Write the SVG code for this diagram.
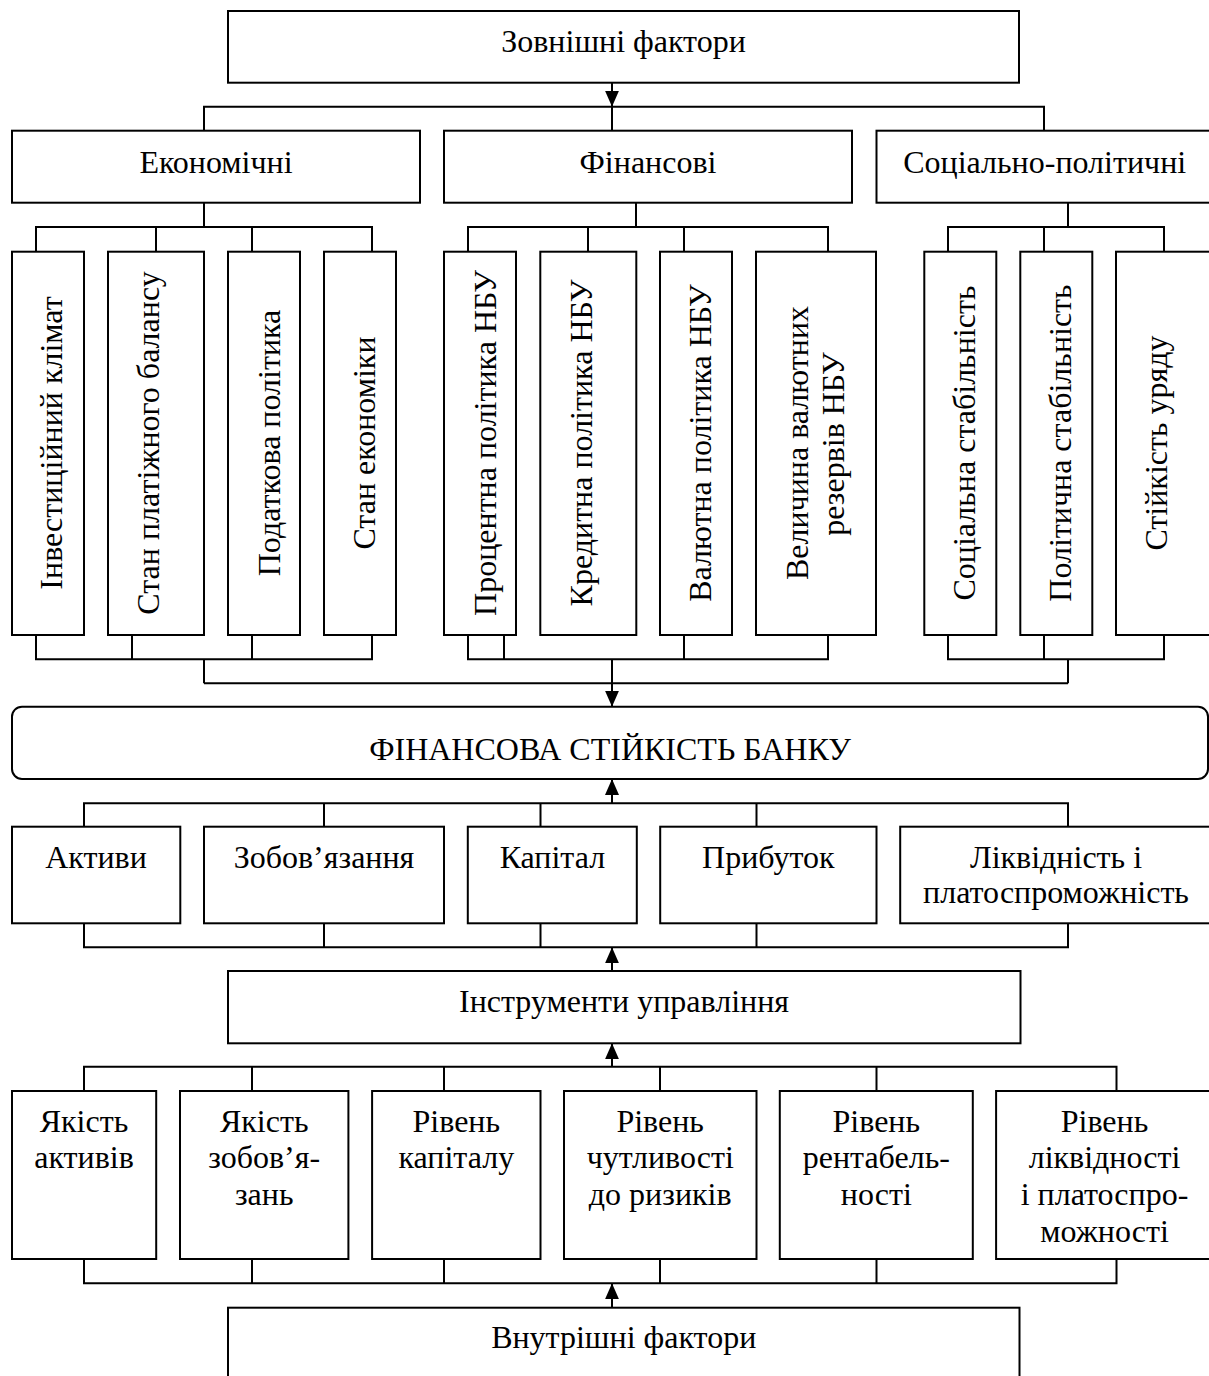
<svg xmlns="http://www.w3.org/2000/svg" width="1209" height="1376" viewBox="0 0 1209 1376">
<style>
.b{fill:#fff;stroke:#000;stroke-width:2}
.t{font-family:"Liberation Serif","Times New Roman",serif;font-size:32px;fill:#000;text-anchor:middle}
.c{fill:none;stroke:#000;stroke-width:2}
</style>
<defs>
<marker id="ah" markerUnits="userSpaceOnUse" viewBox="0 0 16 14" refX="16" refY="7" markerWidth="16" markerHeight="14" orient="auto">
<path d="M0,0 L16,7 L0,14 z" fill="#000"/>
</marker>
</defs>
<rect width="1209" height="1376" fill="#fff"/>
<g id="connectors">
<path class="c" d="M612,83 V106.7" marker-end="url(#ah)"/>
<path class="c" d="M204,130.7 V106.7 H1044 V130.7 M612,106.7 V130.7"/>
<path class="c" d="M204,202.7 V227 M36,251.7 V227 H372 V251.7 M156,227 V251.7 M252,227 V251.7"/>
<path class="c" d="M36,635 V659.3 H372 V635 M132,635 V659.3 M252,635 V659.3 M204,659.3 V683.3"/>
<path class="c" d="M636,202.7 V227 M468,251.7 V227 H828 V251.7 M588,227 V251.7 M684,227 V251.7"/>
<path class="c" d="M468,635 V659.3 H828 V635 M504,635 V659.3 M684,635 V659.3"/>
<path class="c" d="M1068,202.7 V227 M948,251.7 V227 H1164 V251.7 M1044,227 V251.7"/>
<path class="c" d="M948,635 V659.3 H1164 V635 M1044,635 V659.3 M1068,659.3 V683.3"/>
<path class="c" d="M204,683.3 H1068"/>
<path class="c" d="M612,659.3 V706.7" marker-end="url(#ah)"/>
<path class="c" d="M612,803.3 V779" marker-end="url(#ah)"/>
<path class="c" d="M84,826.7 V803.3 H1068 V826.7 M324,803.3 V826.7 M540.5,803.3 V826.7 M756.5,803.3 V826.7"/>
<path class="c" d="M84,923.3 V947.3 H1068 V923.3 M324,923.3 V947.3 M540.5,923.3 V947.3 M756.5,923.3 V947.3"/>
<path class="c" d="M612,971 V947.3" marker-end="url(#ah)"/>
<path class="c" d="M612,1066.7 V1043.3" marker-end="url(#ah)"/>
<path class="c" d="M84,1091 V1066.7 H1116.5 V1091 M252,1066.7 V1091 M444,1066.7 V1091 M660,1066.7 V1091 M876.5,1066.7 V1091"/>
<path class="c" d="M84,1259 V1283.3 H1116.5 V1259 M252,1259 V1283.3 M444,1259 V1283.3 M660,1259 V1283.3 M876.5,1259 V1283.3"/>
<path class="c" d="M612,1307.7 V1283.3" marker-end="url(#ah)"/>
</g>
<g id="n-external"><rect class="b" x="228" y="11" width="791" height="71.7"/><text class="t" x="623.5" y="51.7">Зовнішні фактори</text></g>
<g id="n-econ"><rect class="b" x="12" y="130.7" width="408" height="72"/><text class="t" x="216" y="173.3">Економічні</text></g>
<g id="n-fin"><rect class="b" x="444" y="130.7" width="408" height="72"/><text class="t" x="648" y="173.3">Фінансові</text></g>
<g id="n-soc"><rect class="b" x="876.5" y="130.7" width="340" height="72"/><text class="t" x="1044.7" y="173.3">Соціально-політичні</text></g>
<g id="n-inv"><rect class="b" x="12" y="251.7" width="72" height="383.3"/><text class="t" x="61.7" y="443" transform="rotate(-90 61.7 443)">Інвестиційний клімат</text></g>
<g id="n-pay"><rect class="b" x="108" y="251.7" width="96" height="383.3"/><text class="t" x="159.3" y="443" transform="rotate(-90 159.3 443)">Стан платіжного балансу</text></g>
<g id="n-tax"><rect class="b" x="228" y="251.7" width="72" height="383.3"/><text class="t" x="280" y="443" transform="rotate(-90 280 443)">Податкова політика</text></g>
<g id="n-state"><rect class="b" x="324" y="251.7" width="72" height="383.3"/><text class="t" x="375" y="443" transform="rotate(-90 375 443)">Стан економіки</text></g>
<g id="n-rate"><rect class="b" x="444" y="251.7" width="72" height="383.3"/><text class="t" x="496" y="443" transform="rotate(-90 496 443)">Процентна політика НБУ</text></g>
<g id="n-credit"><rect class="b" x="540.3" y="251.7" width="96" height="383.3"/><text class="t" x="591.7" y="443" transform="rotate(-90 591.7 443)">Кредитна політика НБУ</text></g>
<g id="n-fx"><rect class="b" x="660" y="251.7" width="72" height="383.3"/><text class="t" x="711" y="443" transform="rotate(-90 711 443)">Валютна політика НБУ</text></g>
<g id="n-res"><rect class="b" x="756" y="251.7" width="120" height="383.3"/><text class="t" transform="rotate(-90 807.7 443)" x="807.7" y="443">Величина валютних</text><text class="t" x="843.5" y="444" transform="rotate(-90 843.5 444)">резервів НБУ</text></g>
<g id="n-socst"><rect class="b" x="924.3" y="251.7" width="72" height="383.3"/><text class="t" x="975" y="443" transform="rotate(-90 975 443)">Соціальна стабільність</text></g>
<g id="n-polst"><rect class="b" x="1020.3" y="251.7" width="72" height="383.3"/><text class="t" x="1071" y="443" transform="rotate(-90 1071 443)">Політична стабільність</text></g>
<g id="n-gov"><rect class="b" x="1116" y="251.7" width="100" height="383.3"/><text class="t" x="1166.7" y="443" transform="rotate(-90 1166.7 443)">Стійкість уряду</text></g>
<g id="n-fsb"><rect class="b" x="12" y="706.7" width="1196" height="72.3" rx="10" ry="10"/><text class="t" x="610" y="760">ФІНАНСОВА СТІЙКІСТЬ БАНКУ</text></g>
<g id="n-assets"><rect class="b" x="12" y="826.7" width="168.3" height="96.6"/><text class="t" x="96" y="868.3">Активи</text></g>
<g id="n-liab"><rect class="b" x="204" y="826.7" width="240" height="96.6"/><text class="t" x="324" y="868.3">Зобов’язання</text></g>
<g id="n-cap"><rect class="b" x="467.8" y="826.7" width="169" height="96.6"/><text class="t" x="552.4" y="868.3">Капітал</text></g>
<g id="n-profit"><rect class="b" x="660.2" y="826.7" width="216.3" height="96.6"/><text class="t" x="768.3" y="868.3">Прибуток</text></g>
<g id="n-liq"><rect class="b" x="900.2" y="826.7" width="315" height="96.6"/><text class="t" x="1056" y="868.3">Ліквідність і</text><text class="t" x="1056" y="903.3">платоспроможність</text></g>
<g id="n-tools"><rect class="b" x="228" y="971" width="792.5" height="72.3"/><text class="t" x="624" y="1011.7">Інструменти управління</text></g>
<g id="n-qa"><rect class="b" x="12" y="1091" width="144.2" height="168"/><text class="t" x="84" y="1131.7">Якість</text><text class="t" x="84" y="1168.3">активів</text></g>
<g id="n-ql"><rect class="b" x="180" y="1091" width="168.4" height="168"/><text class="t" x="264.2" y="1131.7">Якість</text><text class="t" x="264.2" y="1168.3">зобов’я-</text><text class="t" x="264.2" y="1205">зань</text></g>
<g id="n-lc"><rect class="b" x="372.1" y="1091" width="168.4" height="168"/><text class="t" x="456.3" y="1131.7">Рівень</text><text class="t" x="456.3" y="1168.3">капіталу</text></g>
<g id="n-lr"><rect class="b" x="564" y="1091" width="192.5" height="168"/><text class="t" x="660.2" y="1131.7">Рівень</text><text class="t" x="660.2" y="1168.3">чутливості</text><text class="t" x="660.2" y="1205">до ризиків</text></g>
<g id="n-lp"><rect class="b" x="779.8" y="1091" width="193" height="168"/><text class="t" x="876.3" y="1131.7">Рівень</text><text class="t" x="876.3" y="1168.3">рентабель-</text><text class="t" x="876.3" y="1205">ності</text></g>
<g id="n-ll"><rect class="b" x="996.1" y="1091" width="220" height="168"/><text class="t" x="1104.5" y="1131.7">Рівень</text><text class="t" x="1104.5" y="1168.3">ліквідності</text><text class="t" x="1104.5" y="1205">і платоспро-</text><text class="t" x="1104.5" y="1241.7">можності</text></g>
<g id="n-internal"><rect class="b" x="228" y="1307.7" width="791.5" height="80"/><text class="t" x="623.7" y="1348.3">Внутрішні фактори</text></g>
</svg>
